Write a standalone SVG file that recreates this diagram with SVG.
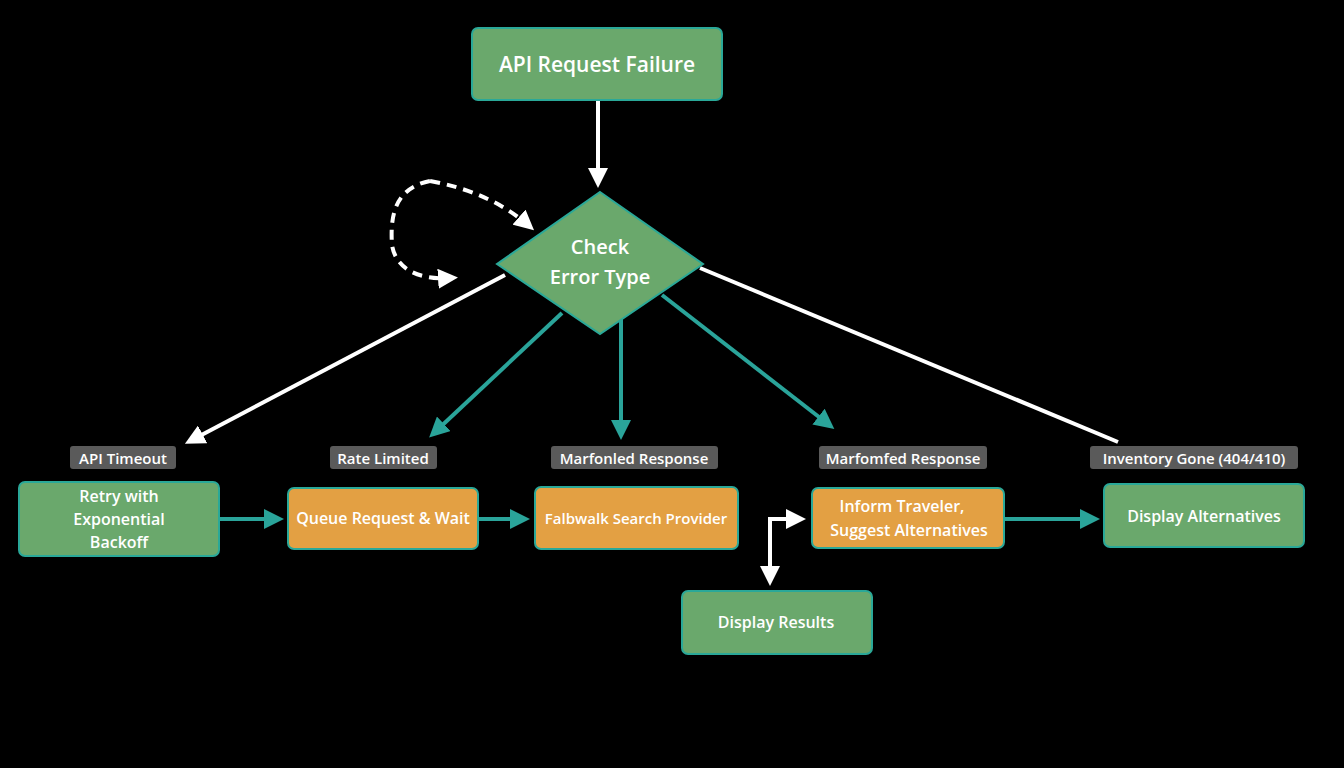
<svg xmlns="http://www.w3.org/2000/svg" width="1344" height="768" viewBox="0 0 1344 768">
<style>
text{font-family:"Open Sans","Liberation Sans",sans-serif;fill:#fff;text-anchor:middle;dominant-baseline:central;font-weight:600}
.g{fill:#6aa86c;stroke:#2aa898;stroke-width:2}
.o{fill:#e3a043;stroke:#2aa898;stroke-width:2}
.lb{fill:#5a5a5a}
.n{font-size:16px}
.l{font-size:15px}
.w{stroke:#fff;stroke-width:4;fill:none}
.t{stroke:#2aa49a;stroke-width:4;fill:none}
</style>
<defs>
<marker id="aw" markerWidth="5" markerHeight="5" refX="3" refY="2.5" orient="auto"><path d="M0,0L5,2.5L0,5z" fill="#fff"/></marker>
<marker id="at" markerWidth="5" markerHeight="5" refX="3" refY="2.5" orient="auto"><path d="M0,0L5,2.5L0,5z" fill="#2aa49a"/></marker>
</defs>
<rect width="1344" height="768" fill="#000"/>
<g id="connectors">
<path class="w" d="M598,100V180" marker-end="url(#aw)"/>
<path class="w" d="M430,181Q490,192 528,225" stroke-dasharray="10,7" marker-end="url(#aw)"/>
<path class="w" d="M430,181C395,188 390,215 392,245C396,270 420,280 450,278" stroke-dasharray="10,7" marker-end="url(#aw)"/>
<path class="w" d="M505,275L192,440" marker-end="url(#aw)"/>
<path class="t" d="M562,313L435,432" marker-end="url(#at)"/>
<path class="t" d="M621,318V432" marker-end="url(#at)"/>
<path class="t" d="M662,295L828,424" marker-end="url(#at)"/>
<path class="w" d="M700,268L1118,442"/>
<path class="t" d="M220,519H276" marker-end="url(#at)"/>
<path class="t" d="M479,519H522" marker-end="url(#at)"/>
<path class="t" d="M1005,519H1092" marker-end="url(#at)"/>
<path class="w" d="M770,578V519H798" marker-end="url(#aw)"/>
<path class="w" d="M770,560V578" marker-end="url(#aw)"/>
</g>
<g id="n-start"><rect class="g" x="472" y="28" width="250" height="72" rx="6"/><text x="597" y="64" style="font-size:21px">API Request Failure</text></g>
<g id="n-check"><path class="g" d="M600,192L703,264L600,334L497,264z"/><text x="600" y="246" style="font-size:20px">Check</text><text x="600" y="276" style="font-size:20px">Error Type</text></g>
<g id="lb1"><rect class="lb" x="70" y="446" width="106" height="23" rx="3"/><text class="l" x="123" y="458">API Timeout</text></g>
<g id="lb2"><rect class="lb" x="330" y="446" width="107" height="23" rx="3"/><text class="l" x="383" y="458">Rate Limited</text></g>
<g id="lb3"><rect class="lb" x="551" y="446" width="167" height="23" rx="3"/><text class="l" x="634" y="458">Marfonled Response</text></g>
<g id="lb4"><rect class="lb" x="819" y="446" width="168" height="23" rx="3"/><text class="l" x="903" y="458">Marfomfed Response</text></g>
<g id="lb5"><rect class="lb" x="1090" y="446" width="208" height="23" rx="3"/><text class="l" x="1194" y="458">Inventory Gone (404/410)</text></g>
<g id="n-retry"><rect class="g" x="19" y="482" width="200" height="74" rx="6"/><text class="n" x="119" y="496">Retry with</text><text class="n" x="119" y="519">Exponential</text><text class="n" x="119" y="542">Backoff</text></g>
<g id="n-queue"><rect class="o" x="288" y="488" width="190" height="61" rx="6"/><text class="n" x="383" y="518">Queue Request &amp; Wait</text></g>
<g id="n-fallback"><rect class="o" x="535" y="487" width="203" height="62" rx="6"/><text class="n" x="636" y="518" style="font-size:15px">Falbwalk Search Provider</text></g>
<g id="n-inform"><rect class="o" x="812" y="488" width="192" height="60" rx="6"/><text class="n" x="902" y="506">Inform Traveler,</text><text class="n" x="909" y="530">Suggest Alternatives</text></g>
<g id="n-alts"><rect class="g" x="1104" y="484" width="200" height="63" rx="6"/><text class="n" x="1204" y="516">Display Alternatives</text></g>
<g id="n-results"><rect class="g" x="682" y="591" width="190" height="63" rx="6"/><text class="n" x="776" y="622">Display Results</text></g>
</svg>
